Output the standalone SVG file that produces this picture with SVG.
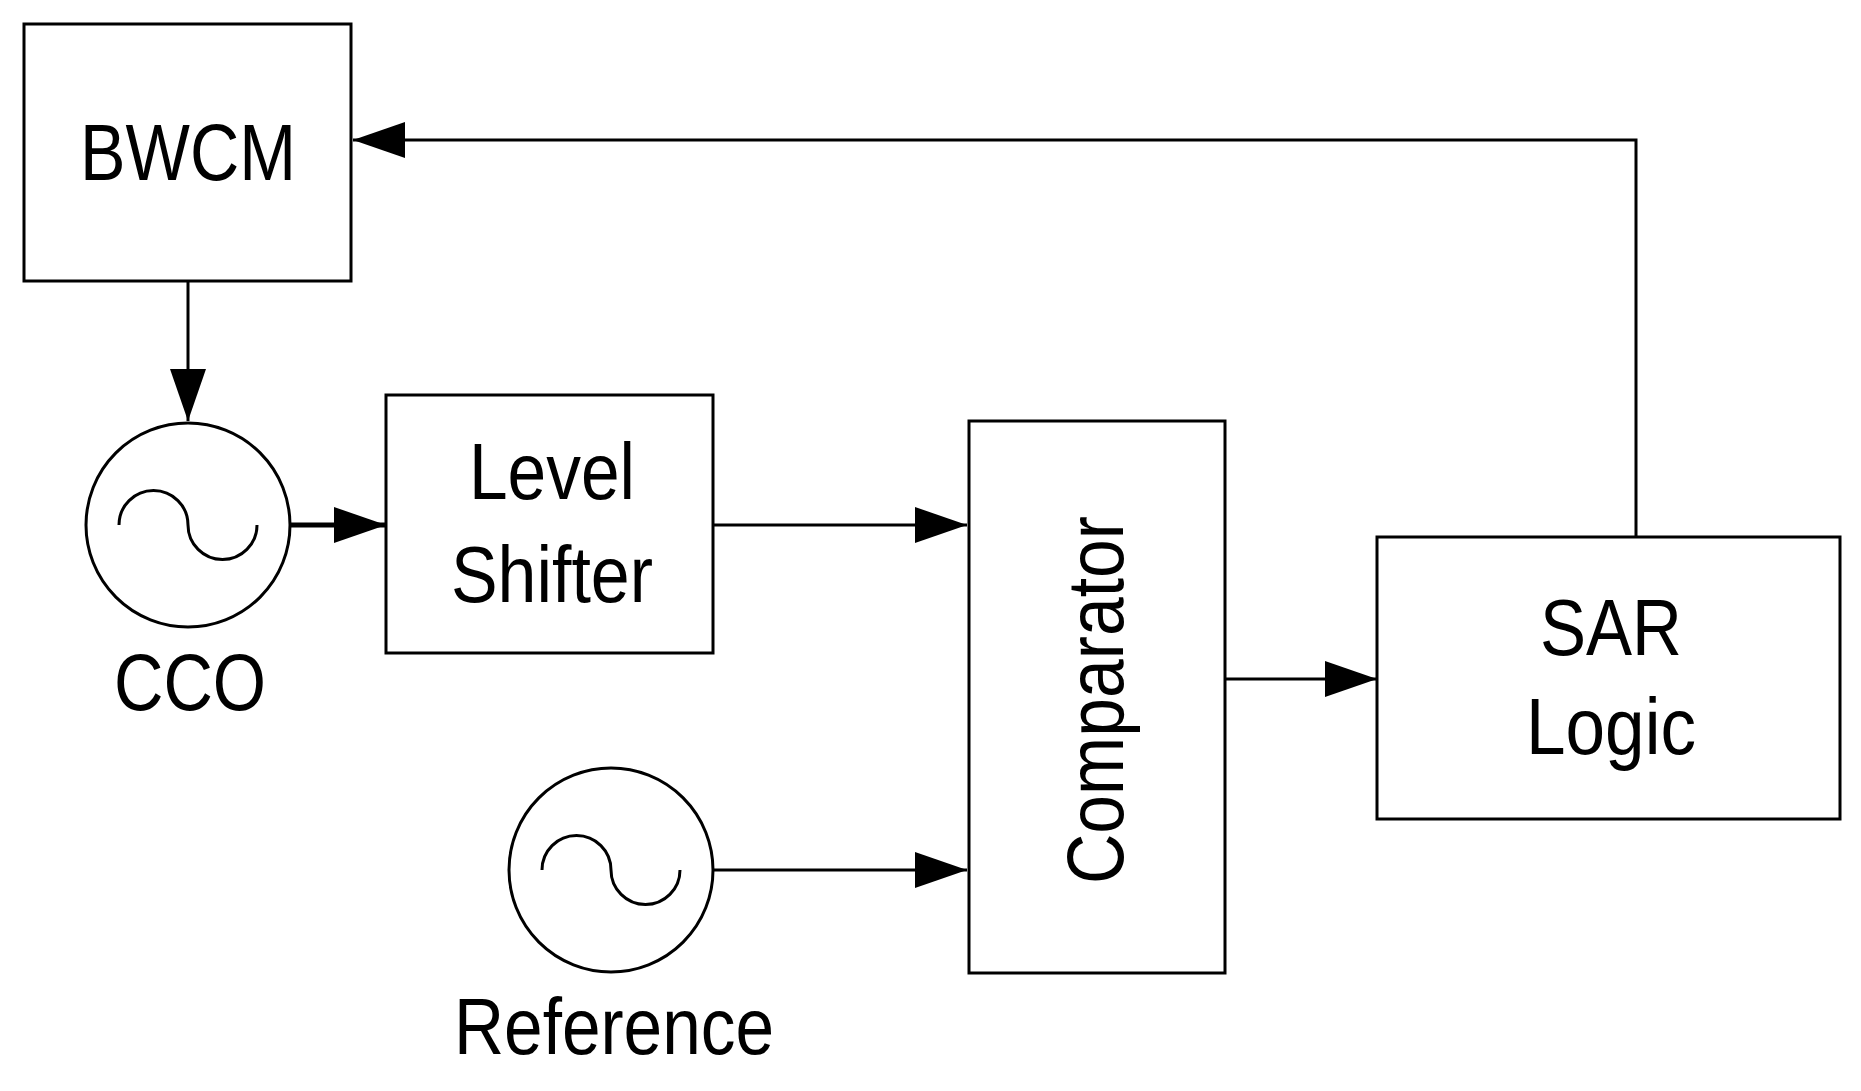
<svg xmlns="http://www.w3.org/2000/svg" width="1861" height="1091" viewBox="0 0 1861 1091">
<style>
.b{fill:#fff;stroke:#000;stroke-width:3}
.t{font-family:"Liberation Sans",Arial,sans-serif;font-size:80px;fill:#000;text-anchor:middle}
.c{fill:none;stroke:#000;stroke-width:3}
</style>
<defs>
<marker id="a" markerUnits="userSpaceOnUse" markerWidth="54" markerHeight="40" refX="52" refY="20" orient="auto"><path d="M0,2 L52,20 L0,38 Z" fill="#000"/></marker>
</defs>
<rect width="1861" height="1091" fill="#fff"/>
<g id="bwcm"><rect class="b" x="24" y="24" width="327" height="257"/><text class="t" x="188" y="180" textLength="216" lengthAdjust="spacingAndGlyphs">BWCM</text></g>
<g id="cco"><circle class="b" cx="188" cy="525" r="102"/><path class="c" d="M119,525 A34.5,34.5 0 0 1 188,525 A34.5,34.5 0 0 0 257,525"/><text class="t" x="190" y="710" textLength="152" lengthAdjust="spacingAndGlyphs">CCO</text></g>
<g id="ls"><rect class="b" x="386" y="395" width="327" height="258"/><text class="t" x="552" y="499" textLength="166" lengthAdjust="spacingAndGlyphs">Level</text><text class="t" x="552" y="602" textLength="202" lengthAdjust="spacingAndGlyphs">Shifter</text></g>
<g id="comp"><rect class="b" x="969" y="421" width="256" height="552"/><text class="t" transform="translate(1123,700) rotate(-90)" x="0" y="0" textLength="368" lengthAdjust="spacingAndGlyphs">Comparator</text></g>
<g id="sar"><rect class="b" x="1377" y="537" width="463" height="282"/><text class="t" x="1611" y="655" textLength="142" lengthAdjust="spacingAndGlyphs">SAR</text><text class="t" x="1611" y="754" textLength="170" lengthAdjust="spacingAndGlyphs">Logic</text></g>
<g id="ref"><circle class="b" cx="611" cy="870" r="102"/><path class="c" d="M542,870 A34.5,34.5 0 0 1 611,870 A34.5,34.5 0 0 0 680,870"/><text class="t" x="614" y="1054" textLength="320" lengthAdjust="spacingAndGlyphs">Reference</text></g>
<g id="connectors" class="c">
<path d="M1636,537 V140 H353" marker-end="url(#a)"/>
<path d="M188,281 V421" marker-end="url(#a)"/>
<path d="M291,525 H386" stroke-width="5" marker-end="url(#a)"/>
<path d="M713,525 H967" marker-end="url(#a)"/>
<path d="M713,870 H967" marker-end="url(#a)"/>
<path d="M1225,679 H1377" marker-end="url(#a)"/>
</g>
</svg>
